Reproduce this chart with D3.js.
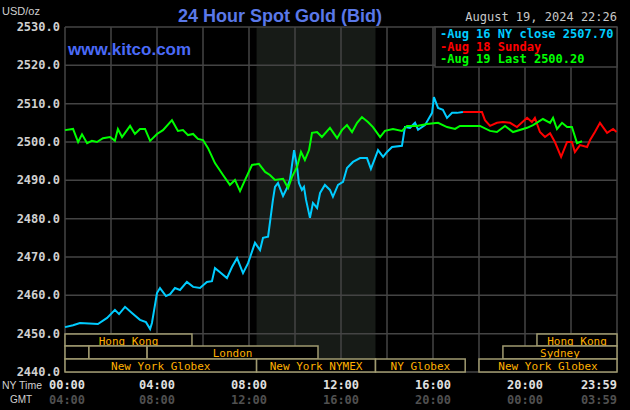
<!DOCTYPE html>
<html>
<head>
<meta charset="utf-8">
<script src="https://cdn.jsdelivr.net/npm/d3@7"></script>
<style>
  body { margin: 0; background: #000; }
  text { font-family: "DejaVu Sans Mono", monospace; }
  text.sans { font-family: "Liberation Sans", Arial, sans-serif; }
  text.narrow { font-family: "Liberation Sans Narrow", "Liberation Sans", sans-serif; }
</style>
</head>
<body>
<svg id="chart" width="630" height="410"></svg>
<script>
// [hour of NY day, price]
const aug16 = [[0,2451.7],[0.35,2452.2],[0.65,2452.8],[1.43,2452.5],[1.83,2454.1],[2.17,2456.2],[2.35,2455.1],[2.61,2457],[2.91,2455.4],[3.26,2453.6],[3.52,2453],[3.7,2451.2],[3.78,2452.8],[4,2460.6],[4.13,2461.9],[4.39,2459.8],[4.57,2460.3],[4.78,2461.9],[5,2461.4],[5.3,2463.5],[5.57,2462.2],[5.87,2461.9],[6.17,2463.5],[6.39,2463.7],[6.52,2467.1],[6.74,2466],[7.04,2464.5],[7.26,2467.4],[7.48,2469.7],[7.74,2465.8],[7.96,2468.4],[8.26,2473.7],[8.48,2471.8],[8.61,2475],[8.83,2475.3],[9.04,2484.9],[9.13,2488.3],[9.26,2489.3],[9.48,2485.9],[9.65,2488],[9.78,2490.1],[9.96,2497.9],[10.09,2493.5],[10.17,2489.3],[10.3,2487.5],[10.39,2488.3],[10.48,2484.9],[10.65,2480.2],[10.78,2484.1],[10.96,2482.8],[11.09,2486.7],[11.3,2488.8],[11.52,2487.5],[11.65,2485.7],[11.87,2488.8],[12.09,2489.6],[12.26,2493.2],[12.52,2494.8],[12.83,2495.8],[13.13,2495.8],[13.3,2493],[13.48,2495.8],[13.61,2497.9],[13.83,2496.1],[14,2497.4],[14.22,2498.7],[14.65,2499],[14.78,2503.9],[15,2503.7],[15.22,2505],[15.35,2503.2],[15.65,2504.4],[15.96,2507.6],[16.04,2511.7],[16.22,2508.9],[16.43,2508.4],[16.61,2506.3],[16.83,2507.6],[17.04,2507.6],[17.3,2507.8]];
const aug18 = [[17.3,2507.8],[18.13,2507.8],[18.26,2505.7],[18.48,2504.2],[18.78,2505],[19.04,2505.2],[19.35,2505],[19.65,2503.9],[20.09,2506.3],[20.3,2505.2],[20.43,2506.3],[20.65,2502.6],[20.87,2501.3],[21.09,2502.3],[21.3,2500],[21.57,2496.1],[21.83,2500],[22.04,2500],[22.17,2497.4],[22.39,2499.2],[22.7,2498.7],[22.83,2500.5],[23.04,2502.6],[23.26,2505],[23.57,2502.4],[23.83,2503.4],[23.98,2502.6]];
const aug19 = [[0,2503.1],[0.35,2503.4],[0.57,2500],[0.74,2502],[0.96,2499.7],[1.17,2500.3],[1.39,2500],[1.65,2501],[1.96,2501.3],[2.17,2500.3],[2.3,2503.4],[2.48,2501.3],[2.83,2504.2],[3.04,2502.1],[3.26,2503.4],[3.48,2503.4],[3.7,2500.3],[4,2502.1],[4.26,2503.1],[4.65,2505.7],[4.91,2502.9],[5.13,2503.1],[5.35,2501.8],[5.57,2502.1],[5.78,2500.8],[6,2500.5],[6.22,2498.4],[6.52,2494.5],[6.87,2491.4],[7.17,2488.8],[7.39,2490.1],[7.61,2487.2],[7.83,2490.1],[8.13,2494],[8.43,2494.3],[8.7,2492.2],[8.91,2491.4],[9.13,2490.1],[9.48,2490.4],[9.7,2488],[9.87,2490.9],[10.09,2493.5],[10.26,2497.4],[10.43,2495.3],[10.61,2497.9],[10.74,2502.4],[10.96,2502.6],[11.17,2501.3],[11.52,2503.7],[11.83,2501],[12.04,2503.1],[12.26,2504.4],[12.48,2502.6],[12.7,2505],[12.91,2506.5],[13.17,2505.2],[13.39,2503.9],[13.7,2501.3],[13.91,2502.9],[14.26,2503.4],[14.65,2502.9],[14.87,2504.2],[15.3,2504.2],[15.74,2504.7],[16.22,2505],[16.61,2503.9],[16.96,2503.4],[17.17,2504.2],[18.04,2504.2],[18.48,2502.9],[18.78,2502.6],[19.13,2504.2],[19.48,2502.6],[20.09,2503.7],[20.35,2504.4],[20.78,2506],[21.09,2505],[21.22,2506.3],[21.39,2503.4],[21.61,2505],[21.83,2503.9],[22.04,2503.9],[22.26,2499.7],[22.48,2500.2]];

const yTicks = [2440,2450,2460,2470,2480,2490,2500,2510,2520,2530];
const nyTimes = ["00:00","04:00","08:00","12:00","16:00","20:00","23:59"];
const gmtTimes = ["04:00","08:00","12:00","16:00","20:00","00:00","03:59"];
const timeHours = [0,4,8,12,16,20,24];
const nymexBand = [8.33, 13.5];
// [row, start, end, label]
const sessions = [
  [0,0,5.52,"Hong Kong"],[0,20.52,24,"Hong Kong"],
  [1,0,1.04,""],[1,1.04,3.57,""],[1,3.57,11,"London"],[1,19.04,24,"Sydney"],
  [2,0,8.33,"New York Globex"],[2,8.33,13.5,"New York NYMEX"],[2,13.5,17.4,"NY Globex"],[2,18,24,"New York Globex"]
];
const legend = [
  ["Aug 16 NY close 2507.70","#00ccff"],
  ["Aug 18 Sunday","#ff0000"],
  ["Aug 19 Last 2500.20","#00ff00"]
];

const svg = d3.select('#chart');
const x = d3.scaleLinear().domain([0,24]).range([65,617]);
const y = d3.scaleLinear().domain([2440,2530]).range([372,27]);

svg.append('rect').attr('width',630).attr('height',410).attr('fill','#000');

// NYMEX shading
svg.append('rect')
  .attr('x', x(nymexBand[0])).attr('y', y(2530))
  .attr('width', x(nymexBand[1]) - x(nymexBand[0]))
  .attr('height', y(2440) - y(2530))
  .attr('fill', '#171b17');

// grid
svg.append('g').selectAll('line').data(yTicks).enter().append('line')
  .attr('x1', x(0)).attr('x2', x(24))
  .attr('y1', d => y(d)).attr('y2', d => y(d))
  .attr('stroke', '#444').attr('stroke-width', 1.5);
svg.append('g').selectAll('line').data(d3.range(0,25,2)).enter().append('line')
  .attr('x1', d => x(d)).attr('x2', d => x(d))
  .attr('y1', y(2530)).attr('y2', y(2440))
  .attr('stroke', '#444').attr('stroke-width', 1.5);

// sessions
const rowTop = [334, 346, 359];
const rowH = [12, 13, 13];
const sess = svg.append('g');
sessions.forEach(([r, s, e, label]) => {
  sess.append('rect')
    .attr('x', x(s)).attr('y', rowTop[r])
    .attr('width', x(e) - x(s)).attr('height', rowH[r])
    .attr('fill', '#000').attr('stroke', '#a09a70').attr('stroke-width', 1.5);
  if (label) sess.append('text')
    .attr('x', (x(s) + x(e)) / 2).attr('y', rowTop[r] + 10.5)
    .attr('text-anchor', 'middle').attr('fill', '#ffb000')
    .attr('font-size', 11).text(label);
});

// lines
const line = d3.line().x(d => x(d[0])).y(d => y(d[1]));
[[aug18,'#ff0000'],[aug16,'#00ccff'],[aug19,'#00ff00']].forEach(([data, c]) => {
  svg.append('path').datum(data).attr('d', line)
    .attr('fill', 'none').attr('stroke', c).attr('stroke-width', 2);
});

// legend
svg.append('rect').attr('x', 435).attr('y', 27).attr('width', 182).attr('height', 40)
  .attr('fill', '#000').attr('stroke', '#444').attr('stroke-width', 1.5);
legend.forEach(([t, c], i) => {
  svg.append('text').attr('x', 440).attr('y', 38 + i * 12.5)
    .attr('fill', c).attr('font-size', 12).attr('font-weight', 'bold').text('-' + t);
});

// axes labels
svg.append('g').selectAll('text').data(yTicks).enter().append('text')
  .attr('x', 60).attr('y', d => y(d) + 4).attr('text-anchor', 'end')
  .attr('fill', '#d0d0d0').attr('font-size', 12).attr('font-weight', 'bold')
  .text(d => d.toFixed(1));
svg.append('text').attr('class', 'narrow').attr('x', 2).attr('y', 15)
  .attr('fill', '#d0d0d0').attr('font-size', 11).text('USD/oz');

svg.append('g').selectAll('text').data(nyTimes).enter().append('text')
  .attr('x', (d, i) => x(timeHours[i]) + (i === 0 ? 2 : 0)).attr('y', 389)
  .attr('text-anchor', (d, i) => i === 6 ? 'end' : 'middle')
  .attr('fill', '#e0e0e0').attr('font-size', 12).attr('font-weight', 'bold').text(d => d);
svg.append('g').selectAll('text').data(gmtTimes).enter().append('text')
  .attr('x', (d, i) => x(timeHours[i]) + (i === 0 ? 2 : 0)).attr('y', 404)
  .attr('text-anchor', (d, i) => i === 6 ? 'end' : 'middle')
  .attr('fill', '#505050').attr('font-size', 12).attr('font-weight', 'bold').text(d => d);
svg.append('text').attr('class', 'narrow').attr('x', 2).attr('y', 389)
  .attr('fill', '#d0d0d0').attr('font-size', 10)
  .attr('textLength', 40).attr('lengthAdjust', 'spacingAndGlyphs').text('NY Time');
svg.append('text').attr('class', 'narrow').attr('x', 10).attr('y', 403)
  .attr('fill', '#d0d0d0').attr('font-size', 10).text('GMT');

// titles
svg.append('text').attr('class', 'sans').attr('x', 280).attr('y', 22).attr('text-anchor', 'middle')
  .attr('fill', '#5a78e8').attr('font-size', 18).attr('font-weight', 'bold')
  .text('24 Hour Spot Gold (Bid)');
svg.append('text').attr('class', 'sans').attr('x', 68).attr('y', 55)
  .attr('fill', '#4a6af8').attr('font-size', 17).attr('font-weight', 'bold')
  .text('www.kitco.com');
svg.append('text').attr('x', 617).attr('y', 21).attr('text-anchor', 'end')
  .attr('fill', '#c8c8c8').attr('font-size', 12).text('August 19, 2024 22:26');
</script>
</body>
</html>
